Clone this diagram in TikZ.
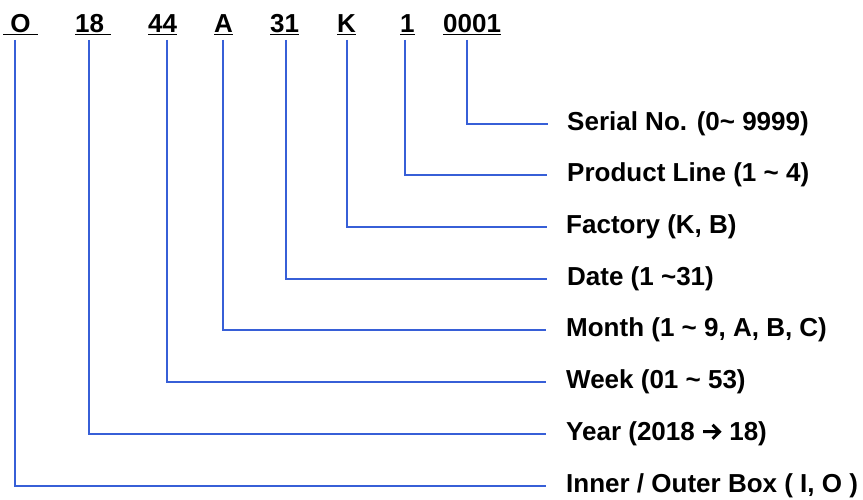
\documentclass[tikz,border=0pt]{standalone}
\usepackage{fontspec}
\setmainfont{Liberation Sans}
\definecolor{lineblue}{RGB}{55,95,215}
\newcommand{\bigarrowglyph}{\tikz[x=1pt,y=1pt,baseline=0pt]{\useasboundingbox (-1,0) rectangle (19,18);\draw[black,line width=3pt,line join=miter] (0,9)--(16,9) (9.5,2)--(16.5,9)--(9.5,16);}}
\begin{document}
\begin{tikzpicture}[x=1pt,y=-1pt,
  code/.style={inner sep=0pt,anchor=base west,font=\bfseries\fontsize{26}{30}\selectfont},
  desc/.style={inner sep=0pt,anchor=west,font=\bfseries\fontsize{26}{30}\selectfont},
  link/.style={draw=lineblue,line width=1.6pt}]
\useasboundingbox (0,0) rectangle (863,500);
% top code characters (underlined)
\node[code] (cO) at (3,33) {\underline{\ O\ }};
\node[code] (c18) at (75,33) {\underline{18\ }};
\node[code] (c44) at (148,33) {\underline{44}};
\node[code] (cA) at (214,33) {\underline{A}};
\node[code] (c31) at (270,33) {\underline{31}};
\node[code] (cK) at (337,33) {\underline{K}};
\node[code] (c1) at (400,33) {\underline{1}};
\node[code] (c0001) at (443,33) {\underline{0001}};
% top anchors of vertical lines
\coordinate (tO) at (15,40);
\coordinate (t18) at (89,40);
\coordinate (t44) at (167,40);
\coordinate (tA) at (223,40);
\coordinate (t31) at (286,40);
\coordinate (tK) at (347,40);
\coordinate (t1) at (405,40);
\coordinate (t0001) at (467,40);
% descriptions
\node[desc] (dSer) at (567,124) {Serial No. (0\char`~\ 9999)};
\node[desc] (dPL) at (567,175) {Product Line (1 \char`~\ 4)};
\node[desc] (dFac) at (566,227) {Factory (K, B)};
\node[desc] (dDate) at (567,279) {Date (1 \char`~31)};
\node[desc] (dMon) at (566,330) {Month (1 \char`~\ 9, A, B, C)};
\node[desc] (dWeek) at (566,382) {Week (01 \char`~\ 53)};
\node[desc] (dYear) at (566,434) {Year (2018 \bigarrowglyph\ 18)};
\node[desc] (dBox) at (566,486) {Inner / Outer Box ( I, O )};
% connectors
\coordinate (eSer) at (548,124);
\coordinate (ePL) at (547,175);
\coordinate (eFac) at (547,227);
\coordinate (eDate) at (547,279);
\coordinate (eMon) at (546,330);
\coordinate (eWeek) at (546,382);
\coordinate (eYear) at (546,434);
\coordinate (eBox) at (546,486);
\draw[link] (t0001) |- (eSer);
\draw[link] (t1) |- (ePL);
\draw[link] (tK) |- (eFac);
\draw[link] (t31) |- (eDate);
\draw[link] (tA) |- (eMon);
\draw[link] (t44) |- (eWeek);
\draw[link] (t18) |- (eYear);
\draw[link] (tO) |- (eBox);
\end{tikzpicture}
\end{document}
